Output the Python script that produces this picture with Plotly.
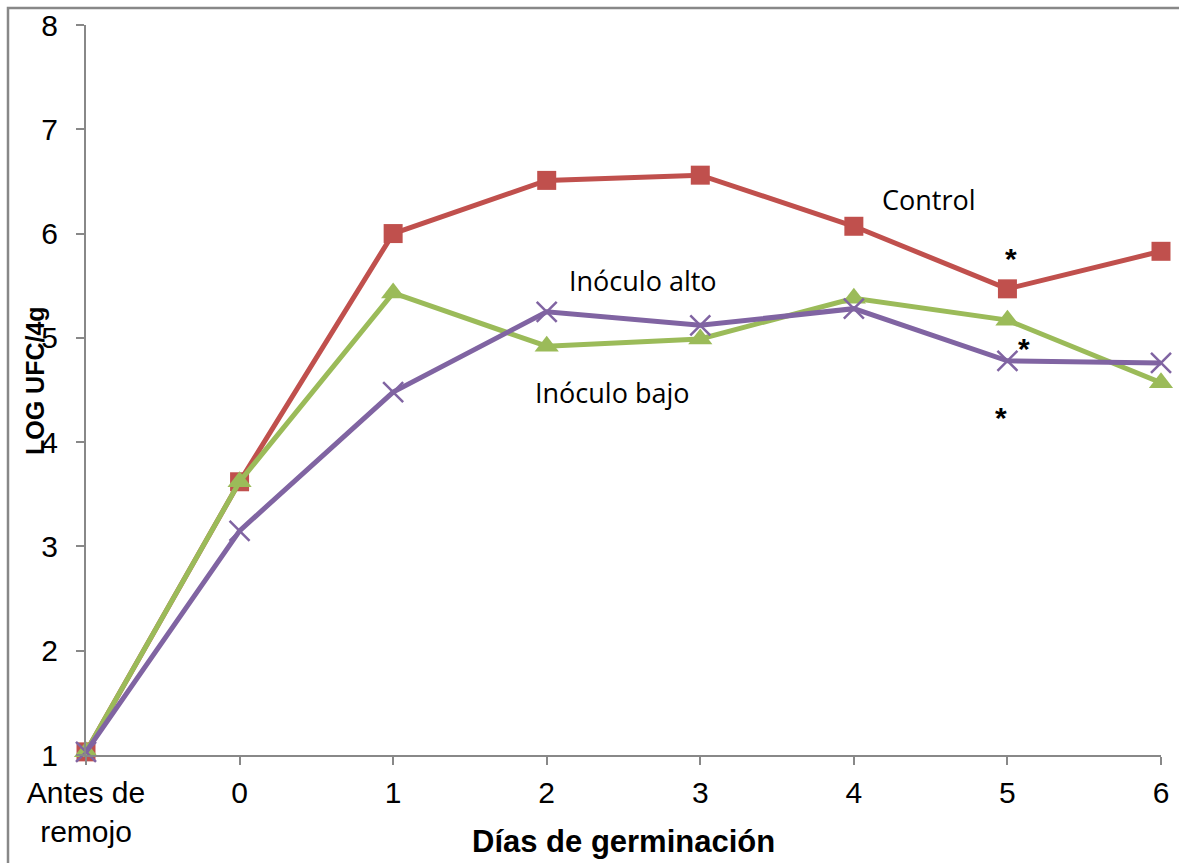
import plotly.graph_objects as go

categorias = ["Antes de<br>remojo", "0", "1", "2", "3", "4", "5", "6"]
control = [1.03, 3.62, 6.00, 6.51, 6.56, 6.07, 5.47, 5.83]
inoculo_alto = [1.03, 3.62, 5.43, 4.92, 4.99, 5.38, 5.17, 4.57]
inoculo_bajo = [1.03, 3.15, 4.48, 5.25, 5.12, 5.28, 4.78, 4.76]

x_idx = list(range(len(categorias)))

fig = go.Figure()
fig.add_trace(go.Scatter(
    x=x_idx, y=control, mode="lines+markers", name="Control", cliponaxis=False,
    line=dict(color="#C0504D", width=5),
    marker=dict(symbol="square", size=19, color="#C0504D"),
))
fig.add_trace(go.Scatter(
    x=x_idx, y=inoculo_alto, mode="lines+markers", name="Inóculo alto", cliponaxis=False,
    line=dict(color="#9BBB59", width=5),
    marker=dict(symbol="triangle-up", size=21, color="#9BBB59"),
))
fig.add_trace(go.Scatter(
    x=x_idx, y=inoculo_bajo, mode="lines+markers", name="Inóculo bajo", cliponaxis=False,
    line=dict(color="#8064A2", width=5),
    marker=dict(symbol="x-thin-open", size=20, color="#8064A2",
                line=dict(color="#8064A2", width=2.5)),
))

ann_font = dict(family="Open Sans, Lato, sans-serif", size=27, color="#000")
annotations = [
    dict(x=5.49, y=6.33, text="Control", font=ann_font),
    dict(x=3.63, y=5.55, text="Inóculo alto", font=ann_font),
    dict(x=3.43, y=4.48, text="Inóculo bajo", font=ann_font),
]
star_font = dict(family="Arial, Liberation Sans", size=30, color="#000")
for xs, ys in [(6.02, 5.76), (6.11, 4.90), (5.96, 4.24)]:
    annotations.append(dict(x=xs, y=ys, text="<b>*</b>", font=star_font))
for a in annotations:
    a.update(xref="x", yref="y", showarrow=False)

# axis titles
title_font = dict(family="Arial, Liberation Sans", color="#000")
annotations.append(dict(
    xref="paper", yref="paper", x=(623 - 86) / 1075, y=-(842 - 755) / 730,
    text="<b>Días de germinación</b>", showarrow=False,
    font=dict(size=31, **title_font), xanchor="center", yanchor="middle"))
annotations.append(dict(
    xref="paper", yref="paper", x=-(86 - 35) / 1075, y=(755 - 381) / 730,
    text="<b>LOG UFC/4g</b>", showarrow=False, textangle=-90,
    font=dict(size=25, **title_font), xanchor="center", yanchor="middle"))

fig.update_layout(
    width=1179, height=863,
    margin=dict(l=86, r=18, t=25, b=108),
    paper_bgcolor="white", plot_bgcolor="white",
    showlegend=False,
    font=dict(family="Arial, Liberation Sans, sans-serif", color="#000"),
    annotations=annotations,
    shapes=[dict(type="rect", xref="paper", yref="paper",
                 x0=-78 / 1075, y0=-0.3, x1=1.2, y1=1 + 17 / 730,
                 line=dict(color="#888888", width=2.5), fillcolor="rgba(0,0,0,0)",
                 layer="below")],
    xaxis=dict(
        range=[0, 7], tickmode="array", tickvals=x_idx, ticktext=categorias,
        automargin=False,
        showline=True, linecolor="#888888", linewidth=2,
        ticks="outside", ticklen=8, tickcolor="#888888", tickwidth=2,
        showgrid=False, zeroline=False,
        tickfont=dict(size=30, family="Arial, Liberation Sans"),
        ticklabelstandoff=2,
    ),
    yaxis=dict(
        range=[1, 8], dtick=1, automargin=False,
        showline=True, linecolor="#888888", linewidth=2,
        ticks="outside", ticklen=8, tickcolor="#888888", tickwidth=2,
        showgrid=False, zeroline=False,
        tickfont=dict(size=30, family="Arial, Liberation Sans"),
        ticklabelstandoff=12,
    ),
)

fig.write_html("out.html")
